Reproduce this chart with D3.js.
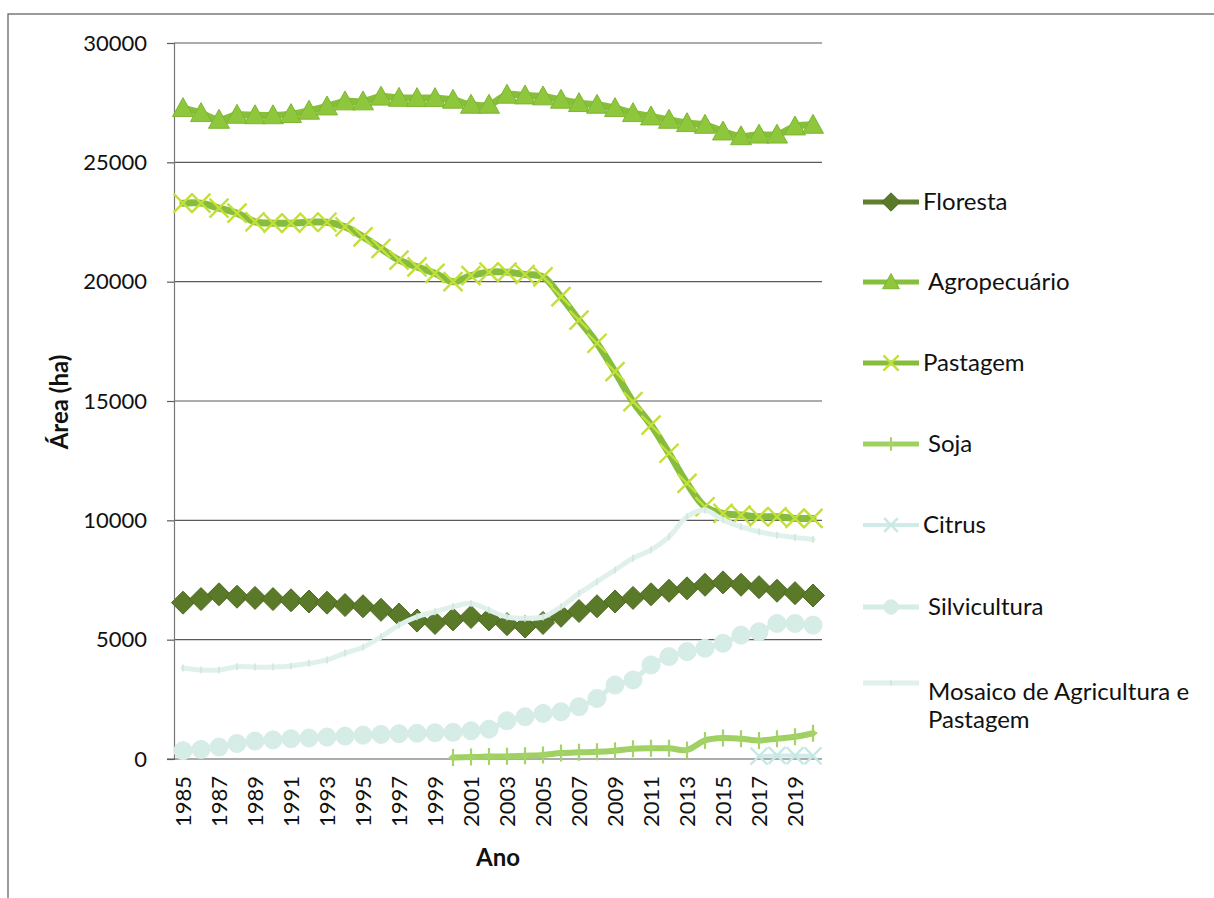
<!DOCTYPE html>
<html>
<head>
<meta charset="utf-8">
<script src="https://cdn.jsdelivr.net/npm/d3@7"></script>
<style>
  html, body { margin: 0; padding: 0; background: #fff; }
  svg { display: block; }
  text { font-family: Lato, "Open Sans", sans-serif; fill: #111; }
</style>
</head>
<body>
<svg id="chart" width="1214" height="898"></svg>
<script>
// Land use area per year (ha)
const years = d3.range(1985, 2021);
const yTicks = [0, 5000, 10000, 15000, 20000, 25000, 30000];
const xTickYears = d3.range(1985, 2020, 2);

const floresta = [6550, 6700, 6900, 6800, 6750, 6700, 6650, 6600, 6550, 6450, 6400, 6250,
  6050, 5800, 5700, 5850, 5950, 5850, 5650, 5550, 5700, 6000, 6200, 6400, 6600, 6750,
  6900, 7050, 7150, 7300, 7400, 7300, 7200, 7050, 6950, 6850];
const agropecuario = [27270, 27060, 26780, 26990, 26970, 26970, 27020, 27160, 27340, 27550,
  27550, 27750, 27700, 27690, 27690, 27620, 27410, 27410, 27830, 27800, 27760, 27620,
  27480, 27410, 27270, 27060, 26920, 26780, 26640, 26570, 26290, 26090, 26160, 26160,
  26500, 26570];
const pastagem = [23290, 23290, 23080, 22870, 22510, 22450, 22450, 22490, 22490, 22300,
  21880, 21390, 20900, 20620, 20350, 20000, 20250, 20400, 20400, 20300, 20200, 19370,
  18390, 17420, 16230, 14970, 13990, 12810, 11550, 10570, 10290, 10220, 10150, 10150,
  10080, 10080];
const soja = [null, null, null, null, null, null, null, null, null, null, null, null, null,
  null, null, 60, 80, 100, 110, 140, 170, 250, 280, 300, 350, 430, 450, 450, 380, 780,
  880, 850, 780, 850, 930, 1080];
const citrus = [null, null, null, null, null, null, null, null, null, null, null, null, null,
  null, null, null, null, null, null, null, null, null, null, null, null, null, null, null,
  null, null, null, null, 120, 150, 140, 130];
const silvicultura = [350, 400, 500, 650, 750, 800, 850, 880, 920, 960, 1000, 1030, 1060,
  1080, 1100, 1120, 1180, 1250, 1600, 1770, 1910, 1980, 2190, 2540, 3100, 3310, 3940,
  4290, 4500, 4640, 4850, 5190, 5330, 5680, 5680, 5610];
const mosaico = [3810, 3730, 3730, 3870, 3850, 3850, 3900, 4010, 4150, 4440, 4680, 5120,
  5610, 5960, 6170, 6380, 6520, 6240, 5950, 5900, 5950, 6380, 6940, 7430, 7920, 8410,
  8760, 9310, 10150, 10430, 10010, 9730, 9520, 9380, 9280, 9200];

const series = [
  { name: "Floresta", values: floresta, line: "#5f7f2e", lw: 5, marker: "diamond", fill: "#5a7a29", stroke: "#4d6a22", size: 23 },
  { name: "Agropecuário", values: agropecuario, line: "#86bf3a", lw: 7, marker: "triangle", fill: "#8ec63c", stroke: "#7fb533", size: 21 },
  { name: "Pastagem", values: pastagem, line: "#86bd3c", lw: 7, marker: "x", fill: "none", stroke: "#c3df3a", size: 19 },
  { name: "Soja", values: soja, line: "#9fd062", lw: 6, marker: "plus", fill: "none", stroke: "#a6d26a", size: 17 },
  { name: "Citrus", values: citrus, line: "#cfece8", lw: 4, marker: "x", fill: "none", stroke: "#c8e8e6", size: 17 },
  { name: "Silvicultura", values: silvicultura, line: "#d6ece6", lw: 5, marker: "circle", fill: "#d6ece6", stroke: "#d6ece6", size: 18 },
  { name: "Mosaico de Agricultura e|Pastagem", values: mosaico, line: "#e0f1ec", lw: 5, marker: "tick", fill: "none", stroke: "#cfe6dc", size: 7 }
];

const svg = d3.select("#chart");
const plot = { left: 174, right: 822, top: 43, bottom: 759 };

// outer chart frame
svg.append("rect")
  .attr("x", 8).attr("y", 14).attr("width", 1230).attr("height", 920)
  .attr("fill", "none").attr("stroke", "#666").attr("stroke-width", 1.3);

const x = d3.scaleBand().domain(years).range([plot.left, plot.right]).paddingInner(0).paddingOuter(0);
const y = d3.scaleLinear().domain([0, 30000]).range([plot.bottom, plot.top]);
const cx = yr => x(yr) + x.bandwidth() / 2;

// horizontal gridlines
svg.append("g").selectAll("line").data(yTicks.filter(t => t > 0)).join("line")
  .attr("x1", plot.left).attr("x2", plot.right)
  .attr("y1", d => y(d)).attr("y2", d => y(d))
  .attr("stroke", "#5a5a5a").attr("stroke-width", 1.2);

// y axis
const yAxis = svg.append("g").attr("transform", `translate(${plot.left},0)`)
  .call(d3.axisLeft(y).tickValues(yTicks).tickSize(7).tickPadding(20).tickFormat(d3.format("d")));
yAxis.select(".domain").attr("stroke", "#777").attr("stroke-width", 1.2);
yAxis.selectAll(".tick line").attr("stroke", "#5a5a5a").attr("stroke-width", 1.2);
yAxis.selectAll("text").attr("font-size", 22).attr("font-family", "Lato, sans-serif").attr("fill", "#111");

// x axis baseline
svg.append("line")
  .attr("x1", plot.left - 7).attr("x2", plot.right)
  .attr("y1", y(0)).attr("y2", y(0))
  .attr("stroke", "#5a5a5a").attr("stroke-width", 1.2);

// x tick labels (vertical)
svg.append("g").selectAll("text").data(xTickYears).join("text")
  .attr("transform", d => `translate(${cx(d)},${y(0) + 17}) rotate(-90)`)
  .attr("text-anchor", "end").attr("dy", "0.35em")
  .attr("font-size", 22)
  .text(d => d);

// axis titles
svg.append("text")
  .attr("transform", "translate(60,402) rotate(-90)")
  .attr("text-anchor", "middle").attr("dy", "0.35em")
  .attr("font-size", 24).attr("font-weight", "bold")
  .text("Área (ha)");
svg.append("text")
  .attr("x", 498).attr("y", 858).attr("dy", "0.35em")
  .attr("text-anchor", "middle")
  .attr("font-size", 24).attr("font-weight", "bold")
  .text("Ano");

function drawMarker(g, s, px, py) {
  const h = s.size / 2;
  if (s.marker === "diamond") {
    g.append("path").attr("d", `M${px},${py - h}L${px + h},${py}L${px},${py + h}L${px - h},${py}Z`)
      .attr("fill", s.fill).attr("stroke", s.stroke).attr("stroke-width", 1);
  } else if (s.marker === "triangle") {
    g.append("path").attr("d", `M${px},${py - h}L${px + h},${py + h * 0.8}L${px - h},${py + h * 0.8}Z`)
      .attr("fill", s.fill).attr("stroke", s.stroke).attr("stroke-width", 1);
  } else if (s.marker === "x") {
    g.append("path").attr("d", `M${px - h},${py - h}L${px + h},${py + h}M${px - h},${py + h}L${px + h},${py - h}`)
      .attr("stroke", s.stroke).attr("stroke-width", 2.4).attr("fill", "none");
  } else if (s.marker === "plus") {
    g.append("path").attr("d", `M${px},${py - h}L${px},${py + h}M${px - h * 0.5},${py}L${px + h * 0.5},${py}`)
      .attr("stroke", s.stroke).attr("stroke-width", 2.2).attr("fill", "none");
  } else if (s.marker === "circle") {
    g.append("circle").attr("cx", px).attr("cy", py).attr("r", h)
      .attr("fill", s.fill).attr("stroke", s.stroke).attr("stroke-width", 1);
  } else if (s.marker === "tick") {
    g.append("path").attr("d", `M${px},${py - h}L${px},${py + h}`)
      .attr("stroke", s.stroke).attr("stroke-width", 1.5);
  }
}

const line = d3.line()
  .defined(d => d.v != null)
  .x(d => cx(d.yr)).y(d => y(d.v))
  .curve(d3.curveCatmullRom.alpha(0.5));

series.forEach(s => {
  const pts = years.map((yr, i) => ({ yr, v: s.values[i] }));
  const g = svg.append("g");
  g.append("path").datum(pts).attr("d", line)
    .attr("fill", "none").attr("stroke", s.line).attr("stroke-width", s.lw)
    .attr("stroke-linejoin", "round").attr("stroke-linecap", "round");
  pts.filter(d => d.v != null).forEach(d => drawMarker(g, s, cx(d.yr), y(d.v)));
});

// legend
const legendY = [202, 282, 363, 444, 525, 607, 683];
const legendTextX = [923, 928, 923, 928, 923, 928, 928];
series.forEach((s, i) => {
  const g = svg.append("g");
  const ly = legendY[i];
  g.append("line").attr("x1", 863).attr("x2", 919).attr("y1", ly).attr("y2", ly)
    .attr("stroke", s.line).attr("stroke-width", Math.min(s.lw, 5));
  drawMarker(g, Object.assign({}, s, { size: s.size * 0.8 }), 891, ly);
  const parts = s.name.split("|");
  parts.forEach((p, k) => {
    g.append("text")
      .attr("x", legendTextX[i]).attr("y", (parts.length > 1 ? ly + 9 : ly) + k * 28)
      .attr("dy", "0.35em").attr("font-size", 24)
      .text(p);
  });
});
</script>
</body>
</html>
